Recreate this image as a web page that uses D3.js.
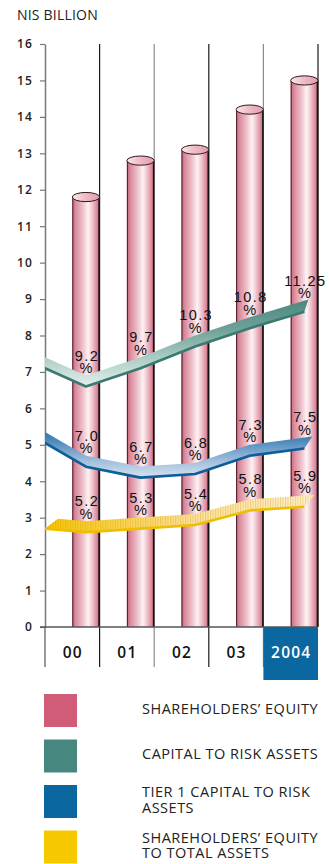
<!DOCTYPE html>
<html><head><meta charset="utf-8">
<script src="https://cdn.jsdelivr.net/npm/d3@7"></script>
<style>html,body{margin:0;padding:0;background:#fff;} svg{display:block;}</style>
</head><body>
<svg id="chart" width="329" height="864"></svg>
<script>
// ---- data ----
const years = ["00", "01", "02", "03", "2004"];
const equity = [11.8, 12.8, 13.1, 14.2, 15.0];            // NIS billion
const capitalToRisk = [9.2, 9.7, 10.3, 10.8, 11.25];       // %
const tier1ToRisk = [7.0, 6.7, 6.8, 7.3, 7.5];             // %
const equityToAssets = [5.2, 5.3, 5.4, 5.8, 5.9];          // %
const ratioAtAxis = [9.7, 7.65, 5.3];                      // ribbon level where each enters at the axis
const yTicks = d3.range(0, 17);
const legendLabels = [
  ["SHAREHOLDERS\u2019 EQUITY"],
  ["CAPITAL TO RISK ASSETS"],
  ["TIER 1 CAPITAL TO RISK", "ASSETS"],
  ["SHAREHOLDERS\u2019 EQUITY", "TO TOTAL ASSETS"]
];

// ---- layout ----
const svg = d3.select("#chart");
const X0 = 45, X1 = 318, Y_TOP = 44, Y_BASE = 627, Y_CAT = 667, Y_BOX = 680;

const x = d3.scaleBand().domain(years).range([X0, X1]).padding(0);
const bw = x.bandwidth();
const cx = d => x(d) + bw * 0.75;             // centre of each cylinder
const y = d3.scaleLinear().domain([0, 16]).range([Y_BASE, Y_TOP]);
// ratio ribbons share the same unit height, lifted by a fixed offset
const ratioShift = 2.6;
const yr = d3.scaleLinear().domain([ratioShift, ratioShift + 16]).range([Y_BASE, Y_TOP]);
const fmtRatio = v => (Number.isInteger(v) ? v.toFixed(1) : String(v));

const defs = svg.append("defs");
function linGrad(id, attrs, stops) {
  const g = defs.append("linearGradient").attr("id", id);
  Object.entries(attrs).forEach(([k, v]) => g.attr(k, v));
  stops.forEach(([o, c]) => g.append("stop").attr("offset", o).attr("stop-color", c));
}
linGrad("cyl", {x1: 0, y1: 0, x2: 1, y2: 0}, [
  [0, "#c4637a"], [0.12, "#d98a9c"], [0.38, "#eebfca"], [0.58, "#fdf2f4"],
  [0.72, "#f2c9d2"], [0.9, "#db8a9c"], [1, "#c25f78"]]);
linGrad("cylTop", {x1: 0, y1: 0, x2: 1, y2: 0}, [
  [0, "#fbe8ec"], [0.45, "#f0bcc7"], [1, "#e49cad"]]);

// title
svg.append("text").attr("x", 17).attr("y", 20)
  .attr("font-family", "Open Sans, sans-serif").attr("font-size", 14).attr("letter-spacing", 0.2)
  .attr("fill", "#222").text("NIS BILLION");

// vertical separators
const seps = d3.range(1, years.length + 1);
svg.append("g").selectAll("line").data(seps).join("line")
  .attr("x1", i => X0 + i * bw).attr("x2", i => X0 + i * bw)
  .attr("y1", Y_TOP)
  .attr("y2", i => i === years.length ? Y_BASE : Y_CAT)
  .attr("stroke", i => i % 2 ? "#1a1a1a" : "#8a8a8a")
  .attr("stroke-width", 1.2);

// highlighted current year box
svg.append("rect").attr("x", x("2004")).attr("y", Y_BASE)
  .attr("width", bw).attr("height", Y_BOX - Y_BASE).attr("fill", "#0b67a0");

// y axis
const yAxis = svg.append("g").attr("transform", `translate(${X0},0)`)
  .call(d3.axisLeft(y).tickValues(yTicks).tickFormat(d3.format("d"))
    .tickSize(5).tickSizeOuter(0).tickPadding(7));
yAxis.select(".domain").attr("stroke", "#777").attr("stroke-width", 1.5);
yAxis.selectAll(".tick line").attr("stroke", "#777").attr("stroke-width", 1.2);
yAxis.selectAll(".tick text").attr("font-family", "Open Sans, sans-serif")
  .attr("font-weight", 600).attr("font-size", 12).attr("letter-spacing", 1.2).attr("fill", "#222");
svg.append("line").attr("x1", X0).attr("x2", X0).attr("y1", Y_BASE).attr("y2", Y_CAT)
  .attr("stroke", "#777").attr("stroke-width", 1.5);

// cylinders
const bars = svg.append("g");
years.forEach((yr_, i) => {
  const bx = x(yr_) + bw / 2, w = bw / 2, top = y(equity[i]);
  bars.append("rect").attr("x", bx).attr("y", top).attr("width", w)
    .attr("height", Y_BASE - top).attr("fill", "url(#cyl)");
  bars.append("line").attr("x1", bx + 0.5).attr("x2", bx + 0.5).attr("y1", top).attr("y2", Y_BASE)
    .attr("stroke", "#4a2028").attr("stroke-width", 1);
  bars.append("line").attr("x1", bx + w - 0.5).attr("x2", bx + w - 0.5).attr("y1", top).attr("y2", Y_BASE)
    .attr("stroke", "#111").attr("stroke-width", 1.6);
  bars.append("ellipse").attr("cx", bx + w / 2).attr("cy", top).attr("rx", w / 2).attr("ry", 4.6)
    .attr("fill", "url(#cylTop)").attr("stroke", "#2a1a1e").attr("stroke-width", 1);
});

// baseline
svg.append("line").attr("x1", 40).attr("x2", X1).attr("y1", Y_BASE).attr("y2", Y_BASE)
  .attr("stroke", "#555").attr("stroke-width", 1.6);

// ratio ribbons
const ribbons = [
  {values: capitalToRisk, start: ratioAtAxis[0], edge: "#3b7a71", clip: true, cap: 4,
   grad: {vertical: true, stops: [[0, "#e4f0ed"], [0.3, "#b0d0c9"], [0.65, "#6fa39a"], [1, "#4a877e"]]}},
  {values: tier1ToRisk, start: ratioAtAxis[1], edge: "#0c5e98", clip: true, cap: 8,
   grad: {vertical: true, stops: [[0, "#d5e3f0"], [0.3, "#a3c0dd"], [0.7, "#4a87bc"], [1, "#1b62a0"]]}},
  {values: equityToAssets, start: ratioAtAxis[2], edge: "#f0be00", clip: false, cap: 10, capLeft: 13,
   grad: {vertical: false, stops: [[0, "#f6c600"], [0.3, "#f9d65a"], [0.55, "#fbe39f"], [1, "#fef1d3"]]}}
];
const H = 11;
defs.append("clipPath").attr("id", "plotClip").append("rect")
  .attr("x", X0).attr("y", 0).attr("width", 329 - X0).attr("height", 864);
const hatch = defs.append("pattern").attr("id", "hatch").attr("patternUnits", "userSpaceOnUse")
  .attr("width", 2.5).attr("height", 4);
hatch.append("line").attr("x1", 0.5).attr("x2", 0.5).attr("y1", 0).attr("y2", 4)
  .attr("stroke", "rgba(215,150,0,0.35)").attr("stroke-width", 1);

const rg = svg.append("g");
ribbons.forEach((r, k) => {
  let bottom = [[X0, yr(r.start)]].concat(years.map((d, i) => [cx(d), yr(r.values[i])]));
  if (r.clip) {
    const [a, b] = bottom;
    const s = (a[1] - b[1]) / (b[0] - a[0]);
    bottom.unshift([a[0] - 14, a[1] + s * 14]);
  }
  const top = bottom.map(p => [p[0], p[1] - H]);
  const n = top.length;
  const sEnd = (top[n - 1][1] - top[n - 2][1]) / (top[n - 1][0] - top[n - 2][0]);
  top[n - 1] = [top[n - 1][0] + r.cap, top[n - 1][1] + sEnd * r.cap];
  if (r.capLeft) {
    const s0 = (top[1][1] - top[0][1]) / (top[1][0] - top[0][0]);
    top[0] = [top[0][0] + r.capLeft, top[0][1] + s0 * r.capLeft];
  }
  const poly = bottom.concat(top.slice().reverse());
  const ys = poly.map(p => p[1]), xs = poly.map(p => p[0]);
  const gid = "rib" + k;
  if (r.grad.vertical) {
    linGrad(gid, {gradientUnits: "userSpaceOnUse", x1: 0, x2: 0, y1: d3.max(ys), y2: d3.min(ys)}, r.grad.stops);
  } else {
    linGrad(gid, {gradientUnits: "userSpaceOnUse", y1: 0, y2: 0, x1: X0, x2: d3.max(xs)}, r.grad.stops);
  }
  const g = rg.append("g").attr("clip-path", "url(#plotClip)");
  g.append("path").attr("d", d3.line()(poly) + "Z").attr("fill", `url(#${gid})`);
  if (!r.grad.vertical) g.append("path").attr("d", d3.line()(poly) + "Z").attr("fill", "url(#hatch)");
  g.append("path").attr("d", d3.line()(bottom)).attr("fill", "none")
    .attr("stroke", r.edge).attr("stroke-width", 2.6).attr("stroke-linejoin", "round");
});

// ratio labels: value on one line, percent sign beneath
const lg = svg.append("g").attr("font-family", "Liberation Sans, Arial, sans-serif")
  .attr("font-size", 14.5).attr("fill", "#111").attr("text-anchor", "middle");
ribbons.forEach(r => {
  years.forEach((d, i) => {
    const yy = yr(r.values[i]) - 26;
    const t = lg.append("text").attr("x", cx(d) + 1).attr("y", yy);
    t.append("tspan").attr("x", cx(d) + 1).attr("letter-spacing", 1.4).text(fmtRatio(r.values[i]));
    t.append("tspan").attr("x", cx(d)).attr("dy", 12.5).text("%");
  });
});

// category labels
svg.append("g").selectAll("text").data(years).join("text")
  .attr("x", d => x(d) + bw / 2 + 0.5).attr("y", 658)
  .attr("text-anchor", "middle").attr("font-family", "Open Sans, sans-serif")
  .attr("font-weight", 600).attr("font-size", 15.5).attr("letter-spacing", 1.2)
  .attr("fill", d => d === "2004" ? "#fff" : "#111").text(d => d);

// legend
const legendColors = ["#d05c78", "#478780", "#0a67a0", "#f5c800"];
const leg = svg.append("g");
legendLabels.forEach((lines, i) => {
  const top = 694 + i * 45.5;
  leg.append("rect").attr("x", 44).attr("y", top).attr("width", 33).attr("height", 33)
    .attr("fill", legendColors[i]);
  const t = leg.append("text").attr("font-family", "Open Sans, sans-serif").attr("font-size", 14.5)
    .attr("letter-spacing", 0.5).attr("fill", "#222");
  lines.forEach((ln, j) => {
    t.append("tspan").attr("x", 142)
      .attr("y", lines.length === 1 ? top + 19.5 : top + 12 + j * 15.7).text(ln);
  });
});
</script>
</body></html>
